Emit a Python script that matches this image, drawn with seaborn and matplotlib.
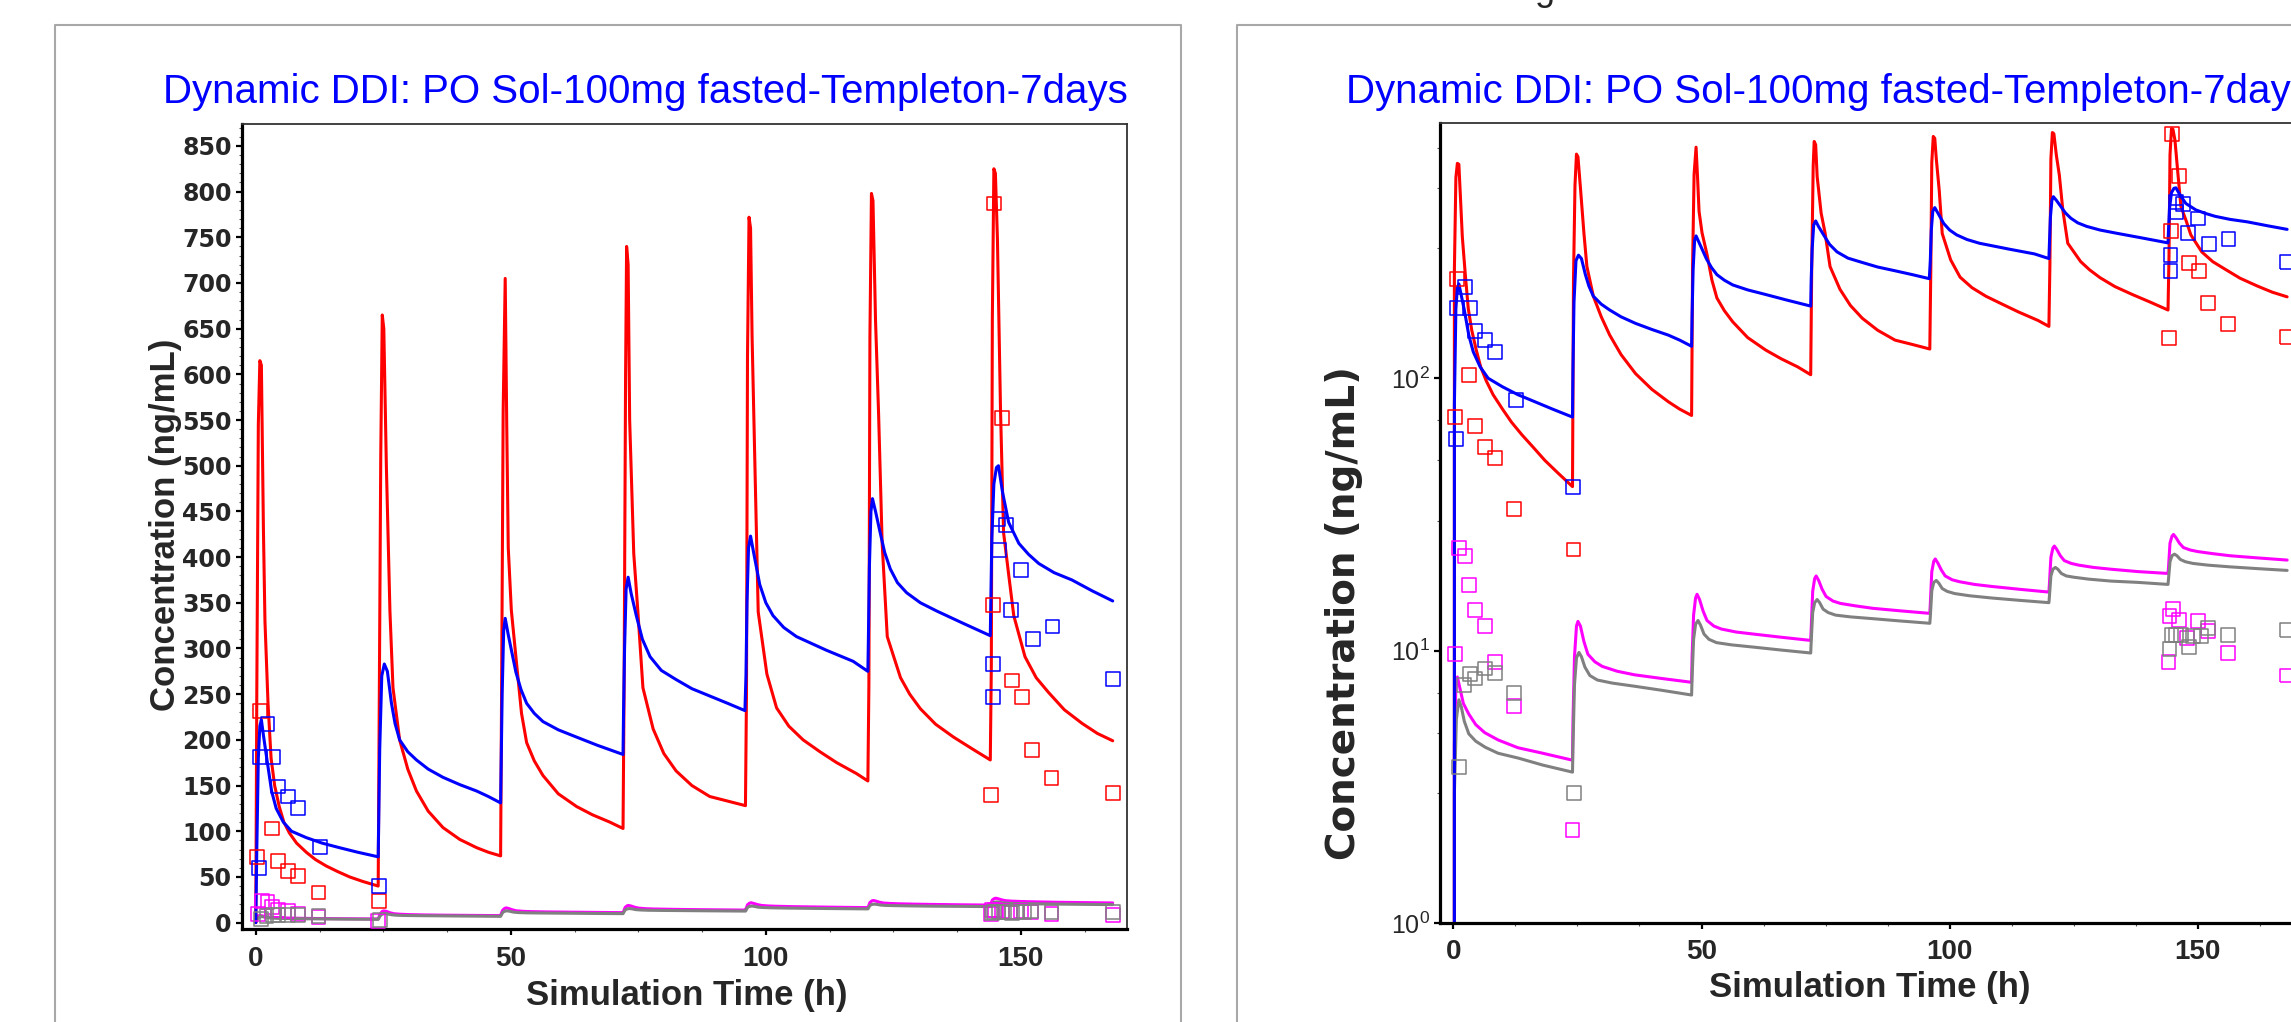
import matplotlib as mpl
mpl.use('Agg')
import matplotlib.pyplot as plt
from matplotlib.lines import Line2D
from matplotlib.ticker import MultipleLocator, FixedLocator, LogLocator, NullFormatter
import seaborn as sns
import numpy as np

################## SIMULATED PROFILES ##################
# red: parent
red_t = [0, 0.2, 0.5, 0.8, 1.1, 1.5, 1.8, 2.4, 3.0, 3.7, 4.6, 5.5, 6.6, 8.0, 9.9, 11.7, 13.8, 16.0, 18.4, 21.0, 24.0,
         24.2, 24.5, 24.8, 25.1, 25.6, 26.3, 26.9, 28.2, 29.8, 31.5, 33.8, 36.7, 40.0, 43.3, 45.6, 48.0,
         48.2, 48.5, 48.9, 49.2, 49.5, 50.1, 51.1, 52.1, 53.1, 54.6, 56.3, 59.3, 62.9, 66.0, 69.4, 72.0,
         72.2, 72.5, 72.7, 73.0, 73.3, 74.1, 74.9, 75.9, 77.9, 80.0, 82.4, 85.5, 89.0, 92.5, 96.0,
         96.2, 96.4, 96.7, 97.0, 97.3, 97.9, 98.5, 100.2, 102.1, 104.5, 107.3, 110.6, 113.9, 117.8, 120.0,
         120.2, 120.4, 120.7, 121.0, 121.5, 122.1, 122.8, 123.8, 126.4, 128.2, 130.3, 133.3, 136.8, 140.5, 144.0,
         144.2, 144.4, 144.7, 145.0, 145.4, 146.0, 146.6, 147.6, 148.6, 150.8, 153.0, 155.4, 158.5, 162.0, 165.0, 168.0]
red_c = [0, 250, 545, 615, 610, 430, 330, 240, 180, 150, 127, 110, 98, 87, 77, 69, 62, 56, 50, 45, 40,
         230, 510, 665, 650, 500, 341, 257, 200, 168, 144, 122, 104, 91, 82, 77, 73,
         260, 560, 705, 545, 410, 342, 285, 229, 197, 177, 161, 141, 127, 118, 110, 103,
         250, 600, 740, 720, 550, 404, 341, 257, 212, 185, 166, 150, 138, 133, 128,
         250, 620, 772, 760, 641, 489, 340, 272, 235, 215, 200, 187, 175, 163, 155,
         260, 640, 798, 790, 659, 557, 415, 313, 268, 250, 234, 217, 203, 190, 178,
         280, 660, 825, 820, 748, 562, 427, 381, 336, 291, 268, 252, 233, 218, 207, 199]

# blue
blue_t = [0, 0.2, 0.5, 0.8, 1.1, 1.5, 2.2, 3.1, 4.0, 5.4, 7.0, 9.9, 13.0, 16.4, 20.0, 24.0,
          24.1, 24.3, 24.7, 25.2, 25.8, 26.6, 27.3, 28.2, 29.8, 31.5, 33.8, 36.7, 40.0, 43.3, 45.6, 48.0,
          48.1, 48.3, 48.6, 48.9, 49.5, 51.0, 52.0, 53.1, 54.6, 56.3, 59.3, 62.9, 67.0, 72.0,
          72.1, 72.3, 72.6, 73.0, 73.6, 74.6, 75.8, 77.3, 79.5, 82.4, 85.5, 89.0, 92.5, 95.9,
          96.1, 96.3, 96.6, 97.0, 97.6, 98.8, 100.0, 101.4, 103.5, 106.0, 111.9, 117.1, 120.0,
          120.1, 120.3, 120.6, 120.9, 121.5, 122.4, 123.3, 124.4, 125.8, 127.6, 130.3, 133.5, 138.5, 144.0,
          144.1, 144.3, 144.7, 145.2, 145.6, 146.4, 147.6, 149.6, 151.5, 153.5, 156.5, 160.0, 164.0, 168.0]
blue_c = [0, 80, 180, 215, 222, 205, 178, 144, 125, 110, 100, 93, 87, 82, 77, 72,
          110, 190, 270, 283, 275, 240, 218, 200, 187, 178, 168, 159, 151, 144, 138, 131,
          170, 250, 320, 333, 315, 274, 255, 240, 229, 220, 211, 203, 194, 184,
          230, 300, 365, 378, 360, 336, 310, 291, 276, 266, 256, 248, 240, 232,
          270, 350, 410, 423, 405, 370, 350, 336, 323, 313, 298, 286, 275,
          310, 390, 450, 464, 450, 427, 405, 387, 372, 361, 350, 341, 328, 314,
          350, 420, 480, 498, 500, 471, 438, 415, 403, 393, 383, 375, 363, 352]

# magenta
mag_t = [0, 0.2, 0.5, 0.8, 1.3, 2.0, 3.1, 4.5, 6.3, 9.0, 13.0, 18.0, 24.0,
         24.1, 24.4, 24.8, 25.1, 25.6, 26.3, 27.1, 28.5, 30.0, 33.0, 36.5, 42.0, 48.0,
         48.1, 48.4, 48.8, 49.1, 49.6, 50.3, 51.1, 52.5, 54.0, 57.0, 60.5, 66.0, 72.0,
         72.1, 72.4, 72.8, 73.1, 73.6, 74.3, 75.1, 76.5, 78.0, 81.0, 84.5, 90.0, 96.0,
         96.1, 96.4, 96.8, 97.1, 97.6, 98.3, 99.1, 100.5, 102.0, 105.0, 108.5, 114.0, 120.0,
         120.1, 120.4, 120.8, 121.1, 121.6, 122.3, 123.1, 124.5, 126.0, 129.0, 132.5, 138.0, 144.0,
         144.1, 144.4, 144.8, 145.1, 145.6, 146.3, 147.1, 148.5, 150.0, 153.0, 156.5, 162.0, 168.0]
mag_c = [0, 4.5, 7.4, 8.0, 7.3, 6.4, 5.85, 5.35, 5.0, 4.7, 4.4, 4.2, 3.96,
         5.5, 9.5, 12.3, 12.8, 12.3, 10.8, 9.7, 9.1, 8.75, 8.4, 8.15, 7.9, 7.65,
         9.5, 13.5, 15.6, 16.1, 15.4, 14.0, 12.9, 12.3, 12.0, 11.7, 11.5, 11.2, 10.9,
         12.0, 16.5, 18.4, 18.8, 18.1, 16.8, 15.8, 15.2, 14.9, 14.6, 14.3, 14.0, 13.7,
         14.8, 19.5, 21.3, 21.7, 21.0, 19.8, 18.8, 18.2, 17.9, 17.5, 17.2, 16.8, 16.4,
         17.5, 22.0, 23.8, 24.2, 23.5, 22.3, 21.4, 20.9, 20.6, 20.2, 19.9, 19.5, 19.2,
         20.2, 24.8, 26.3, 26.7, 26.0, 24.8, 23.9, 23.4, 23.1, 22.7, 22.3, 21.9, 21.5]

# gray
gray_t = [0, 0.2, 0.6, 1.1, 1.6, 2.2, 3.1, 4.5, 6.4, 9.0, 13.1, 18.0, 24.0,
          24.1, 24.4, 24.8, 25.3, 25.8, 26.5, 27.5, 29.0, 32.0, 36.5, 42.0, 48.0,
          48.1, 48.4, 48.8, 49.3, 49.8, 50.5, 51.5, 53.0, 56.0, 60.5, 66.0, 72.0,
          72.1, 72.4, 72.8, 73.3, 73.8, 74.5, 75.5, 77.0, 80.0, 84.5, 90.0, 96.0,
          96.1, 96.4, 96.8, 97.3, 97.8, 98.5, 99.5, 101.0, 104.0, 108.5, 114.0, 120.0,
          120.1, 120.4, 120.8, 121.3, 121.8, 122.5, 123.5, 125.0, 128.0, 132.5, 138.0, 144.0,
          144.1, 144.4, 144.8, 145.3, 145.8, 146.5, 147.5, 149.0, 152.0, 156.5, 162.0, 168.0]
gray_c = [0, 3.0, 5.6, 6.6, 6.2, 5.5, 4.95, 4.65, 4.42, 4.2, 4.03, 3.8, 3.58,
          4.5, 7.5, 9.4, 9.85, 9.5, 8.7, 8.1, 7.8, 7.6, 7.4, 7.15, 6.87,
          8.0, 11.0, 12.5, 12.9, 12.4, 11.5, 11.0, 10.7, 10.5, 10.3, 10.05, 9.8,
          10.8, 13.8, 15.0, 15.4, 15.0, 14.2, 13.8, 13.5, 13.3, 13.1, 12.85, 12.6,
          13.3, 16.6, 17.8, 18.1, 17.7, 16.9, 16.5, 16.2, 15.9, 15.6, 15.3, 15.0,
          15.8, 18.8, 19.9, 20.2, 19.9, 19.2, 18.8, 18.6, 18.3, 18.0, 17.8, 17.5,
          18.3, 21.2, 22.3, 22.6, 22.3, 21.6, 21.2, 20.9, 20.6, 20.3, 20.0, 19.7]

################## OBSERVED ##################
red_obs_t = [0.3, 0.8, 3.1, 4.3, 6.3, 8.3, 12.3, 24.2,
             144.2, 144.6, 144.8, 146.3, 148.2, 150.2, 152.1, 156.0, 168.0]
red_obs = [72, 232, 103, 67, 56, 51, 33, 23.5,
           140, 348, 787, 552, 265, 247, 189, 158, 142]
blue_obs_t = [0.6, 0.8, 2.3, 3.3, 4.4, 6.3, 8.3, 12.6, 24.1,
              144.5, 144.5, 145.6, 145.7, 147.0, 148.1, 150.0, 152.3, 156.2, 168.0]
blue_obs = [60, 181, 217, 181, 149, 138, 125, 83, 40,
            247, 283, 442, 408, 435, 342, 386, 310, 324, 267]
mag_obs_t = [0.4, 1.2, 2.3, 3.2, 4.3, 6.3, 8.3, 12.3, 24.0,
             144.1, 144.3, 145.0, 146.3, 147.9, 150.0, 152.0, 156.0, 168.0]
mag_obs = [9.7, 23.8, 22.2, 17.4, 14.1, 12.3, 9.1, 6.25, 2.2,
           9.1, 13.4, 14.2, 13.0, 11.1, 12.8, 11.8, 9.8, 8.1]
gray_obs_t = [1.1, 2.1, 3.3, 4.3, 6.3, 8.3, 12.3, 24.3,
              144.3, 144.7, 145.6, 146.7, 148.2, 149.0, 150.6, 152.0, 156.0, 168.0]
gray_obs = [3.73, 7.47, 8.2, 7.9, 8.6, 8.3, 7.0, 3.0,
            10.1, 11.4, 11.4, 11.4, 10.3, 11.3, 11.3, 12.1, 11.4, 11.9]

title = 'Dynamic DDI: PO Sol-100mg fasted-Templeton-7days'
RED, BLUE, MAG, GRAY = '#ff0000', '#0000ff', '#ff00ff', '#808080'

sns.set_style('white')
plt.rcParams['font.family'] = ['Liberation Sans', 'DejaVu Sans']
plt.rcParams['mathtext.fontset'] = 'custom'
plt.rcParams['mathtext.rm'] = 'Liberation Sans'

W, H = 2291, 1022
fig = plt.figure(figsize=(W / 100, H / 100), dpi=100)


def px(x0, y0, x1, y1):
    return [x0 / W, 1 - y1 / H, (x1 - x0) / W, (y1 - y0) / H]


ax1 = fig.add_axes(px(242, 124, 1127, 929))
ax2 = fig.add_axes(px(1440, 123, 2302, 923))

lines = [(mag_t, mag_c, MAG), (gray_t, gray_c, GRAY),
         (red_t, red_c, RED), (blue_t, blue_c, BLUE)]
obs = [(red_obs_t, red_obs, RED), (blue_obs_t, blue_obs, BLUE),
       (mag_obs_t, mag_obs, MAG), (gray_obs_t, gray_obs, GRAY)]

for ax in (ax1, ax2):
    for t, c, col in lines:
        sns.lineplot(x=t, y=c, color=col, lw=2.2, estimator=None, sort=False, ax=ax)
    for t, c, col in obs:
        sns.scatterplot(x=t, y=c, marker='s', s=100, fc='none', ec=col, lw=1.1,
                        ax=ax, zorder=3, clip_on=False)
    ax.set_xlabel('')
    ax.set_ylabel('')
    for side in ('left', 'bottom'):
        ax.spines[side].set_linewidth(2.3)
        ax.spines[side].set_color('black')
    for side in ('top', 'right'):
        ax.spines[side].set_linewidth(1.3)
        ax.spines[side].set_color('#333333')
    ax.set_xticks([0, 50, 100, 150])
    ax.xaxis.set_minor_locator(MultipleLocator(12.5))
    ax.tick_params(which='major', direction='out', length=4.5, width=1.6,
                   color='black', left=True, bottom=True)
    ax.tick_params(which='minor', direction='out', length=2.5, width=0.8,
                   color='#555555', left=True, bottom=True)

# linear panel
ax1.set_xlim(-2.7, 170.8)
ax1.set_ylim(-7, 874)
ax1.set_yticks(range(0, 851, 50))
ax1.yaxis.set_minor_locator(MultipleLocator(10))
ax1.tick_params(axis='x', which='major', pad=8)
ax1.tick_params(axis='y', which='major', pad=3)
for lab in ax1.get_xticklabels():
    lab.set_fontsize(20)
    lab.set_fontweight('bold')
for lab in ax1.get_yticklabels():
    lab.set_family('DejaVu Sans')
    lab.set_fontsize(17)
    lab.set_fontweight('bold')

# log panel
ax2.set_yscale('log', nonpositive='clip')
ax2.set_xlim(-2.7, 171)
ax2.set_ylim(1, 865)
ax2.yaxis.set_major_locator(FixedLocator([1, 10, 100]))
ax2.yaxis.set_minor_locator(LogLocator(base=10, subs=(3, 5, 7)))
ax2.yaxis.set_minor_formatter(NullFormatter())
ax2.tick_params(axis='x', which='major', pad=7)
ax2.tick_params(axis='y', which='major', pad=3)
for lab in ax2.get_xticklabels():
    lab.set_fontsize(20)
    lab.set_fontweight('bold')
for lab in ax2.get_yticklabels():
    lab.set_fontsize(18)

# titles and axis labels
fig.text(645 / W, 1 - 92 / H, title, color=BLUE, fontsize=29, ha='center', va='center')
fig.text(1346 / W, 1 - 92 / H, title, color=BLUE, fontsize=29, ha='left', va='center')
fig.text(165 / W, 1 - 525 / H, 'Concentration (ng/mL)', fontsize=25, fontweight='bold',
         rotation=90, ha='center', va='center')
fig.text(1344 / W, 1 - 613 / H, 'Concentration (ng/mL)', fontsize=28, fontweight='bold',
         family='DejaVu Sans', rotation=90, ha='center', va='center')
fig.text(687 / W, 1 - 995 / H, 'Simulation Time (h)', fontsize=25, fontweight='bold',
         ha='center', va='center')
fig.text(1870 / W, 1 - 987 / H, 'Simulation Time (h)', fontsize=25, fontweight='bold',
         ha='center', va='center')
fig.text(1545 / W, 1.0, 'g', fontsize=26, ha='center', va='baseline')

# grey panel frames
frame = dict(transform=fig.transFigure, color='#a8a8a8', lw=1.5)
fig.add_artist(Line2D([55 / W, 55 / W, 1181 / W, 1181 / W], [0, 1 - 25 / H, 1 - 25 / H, 0], **frame))
fig.add_artist(Line2D([1237 / W, 1237 / W, 1], [0, 1 - 25 / H, 1 - 25 / H], **frame))

plt.savefig('out.png', dpi=100)
